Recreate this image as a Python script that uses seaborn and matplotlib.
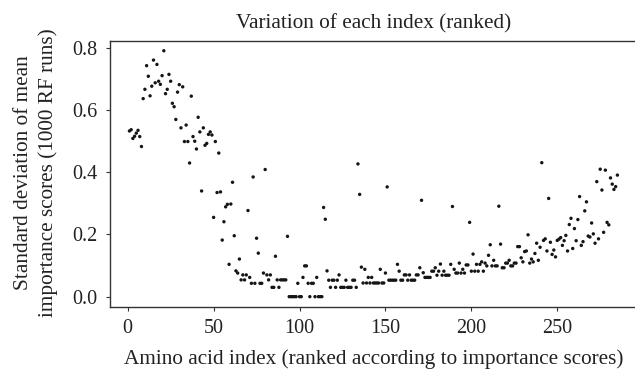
import numpy as np
import pandas as pd
import matplotlib
matplotlib.use("Agg")
import matplotlib.pyplot as plt
import seaborn as sns

# standard deviation of mean importance (1000 RF runs)
# indices 1-53: the high block on the left
sd_head = [0.533, 0.537, 0.509, 0.516, 0.526, 0.535, 0.515, 0.483, 0.637, 0.667,
           0.743, 0.709, 0.646, 0.677, 0.761, 0.688, 0.747, 0.693, 0.683, 0.711,
           0.791, 0.653, 0.667, 0.715, 0.693, 0.622, 0.611, 0.570, 0.658, 0.682,
           0.543, 0.675, 0.499, 0.552, 0.499, 0.430, 0.645, 0.515, 0.500, 0.475,
           0.577, 0.530, 0.340, 0.543, 0.487, 0.493, 0.522, 0.530, 0.520, 0.255,
           0.499, 0.335, 0.462]
# indices 54-115: the drop
sd_drop = [0.337, 0.182, 0.241, 0.289, 0.297, 0.104, 0.298, 0.368, 0.196, 0.083,
           0.076, 0.121, 0.054, 0.070, 0.054, 0.070, 0.277, 0.062, 0.043, 0.385,
           0.043, 0.188, 0.140, 0.043, 0.043, 0.076, 0.409, 0.070, 0.054, 0.070,
           0.030, 0.030, 0.130, 0.054, 0.030, 0.054, 0.054, 0.054, 0.054, 0.194,
           0.0, 0.0, 0.0, 0.0, 0.0, 0.043, 0.0, 0.0, 0.062, 0.099,
           0.099, 0.043, 0.0, 0.043, 0.043, 0.0, 0.062, 0.0, 0.0, 0.0,
           0.287, 0.249]
# indices 116-172: the floor
sd_floor = [0.083, 0.053, 0.030, 0.053, 0.053, 0.030, 0.053, 0.070, 0.030, 0.030,
            0.030, 0.053, 0.030, 0.030, 0.030, 0.053, 0.053, 0.030, 0.427, 0.329,
            0.095, 0.044, 0.088, 0.044, 0.062, 0.044, 0.062, 0.044, 0.044, 0.044,
            0.044, 0.088, 0.044, 0.044, 0.076, 0.353, 0.053, 0.053, 0.053, 0.053,
            0.053, 0.104, 0.082, 0.053, 0.053, 0.070, 0.070, 0.053, 0.070, 0.053,
            0.053, 0.053, 0.070, 0.070, 0.093, 0.310, 0.077]
# indices 173-230: slow rise
sd_rise = [0.062, 0.062, 0.062, 0.062, 0.082, 0.082, 0.093, 0.069, 0.082, 0.105,
           0.069, 0.082, 0.069, 0.069, 0.069, 0.104, 0.290, 0.088, 0.076, 0.076,
           0.108, 0.076, 0.088, 0.076, 0.102, 0.102, 0.239, 0.082, 0.137, 0.082,
           0.104, 0.082, 0.104, 0.112, 0.082, 0.108, 0.099, 0.133, 0.167, 0.099,
           0.117, 0.099, 0.099, 0.291, 0.169, 0.093, 0.093, 0.108, 0.108, 0.117,
           0.099, 0.099, 0.108, 0.108, 0.161, 0.161, 0.125, 0.112]
# indices 231-285: the tail
sd_tail = [0.145, 0.147, 0.199, 0.108, 0.121, 0.112, 0.139, 0.172, 0.117, 0.159,
           0.431, 0.181, 0.186, 0.147, 0.316, 0.175, 0.136, 0.150, 0.128, 0.181,
           0.185, 0.190, 0.165, 0.180, 0.197, 0.147, 0.232, 0.252, 0.155, 0.219,
           0.180, 0.248, 0.322, 0.165, 0.177, 0.276, 0.305, 0.195, 0.192, 0.237,
           0.202, 0.172, 0.370, 0.186, 0.410, 0.343, 0.207, 0.407, 0.239, 0.231,
           0.382, 0.362, 0.345, 0.354, 0.391]

sd_vals = sd_head + sd_drop + sd_floor + sd_rise + sd_tail
df = pd.DataFrame({"index": np.arange(1, len(sd_vals) + 1), "sd": sd_vals})

sns.set_theme(style="ticks")
plt.rcParams['font.family'] = ['Liberation Serif', 'DejaVu Serif']

fig = plt.figure(figsize=(6.35, 3.7), dpi=100)
ax = fig.add_axes([0.1731, 0.1716, 0.8299, 0.7178])

sns.scatterplot(data=df, x="index", y="sd", ax=ax, s=6, color="#151515",
                edgecolor="none", linewidth=0)

# R-style 4% padding
ax.set_xlim(1 - 0.04 * 284, 285 + 0.04 * 284)
ax.set_ylim(0 - 0.04 * 0.791, 0.791 + 0.04 * 0.791)
ax.set_xticks([0, 50, 100, 150, 200, 250])
ax.set_yticks([0.0, 0.2, 0.4, 0.6, 0.8])
ax.set_yticklabels(["0.0", "0.2", "0.4", "0.6", "0.8"])
ax.tick_params(direction="out", length=3, width=0.8, color="#333333",
               labelsize=14.5, pad=6, labelcolor="#222222")
for sp in ax.spines.values():
    sp.set_visible(True)
    sp.set_linewidth(1.0)
    sp.set_color("#333333")

ax.set_title("Variation of each index (ranked)", fontsize=15.3, color="#222222", pad=9)
ax.set_xlabel("Amino acid index (ranked according to importance scores)",
              fontsize=15.3, color="#222222", labelpad=8)
ax.set_ylabel("")
fig.text(36.0 / 635, 1 - 172.5 / 370,
         "Standard deviation of mean\nimportance scores (1000 RF runs)",
         rotation=90, ha="center", va="center", fontsize=15.3,
         color="#222222", linespacing=1.4, multialignment="center")

fig.savefig("out.png", dpi=100)
